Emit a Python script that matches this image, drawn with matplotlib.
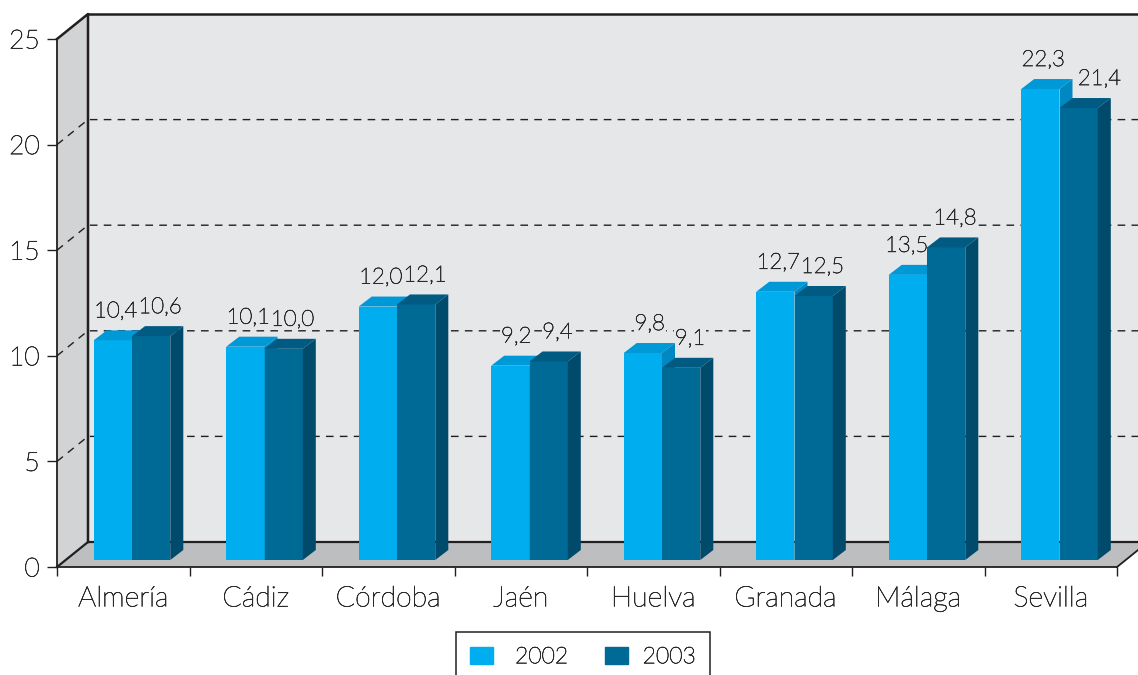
import matplotlib
matplotlib.use('Agg')
import matplotlib.pyplot as plt
import matplotlib.patheffects as pe
from matplotlib.patches import Polygon, Patch
import numpy as np

plt.rcParams['font.family'] = ['Lato', 'DejaVu Sans']
plt.rcParams['font.weight'] = 'light'

cities = ['Almería', 'Cádiz', 'Córdoba', 'Jaén', 'Huelva', 'Granada', 'Málaga', 'Sevilla']
values_2002 = [10.4, 10.1, 12.0, 9.2, 9.8, 12.7, 13.5, 22.3]
values_2003 = [10.6, 10.0, 12.1, 9.4, 9.1, 12.5, 14.8, 21.4]
years = ['2002', '2003']
y_ticks = [0, 5, 10, 15, 20, 25]

W, H = 1138, 675
ink = '#231f20'
text_col = '#2b292a'
wall_col = '#e6e7e9'
# lato light is too thin by itself, a small stroke brings it up to the reference
thicker = [pe.withStroke(linewidth=0.45, foreground=text_col)]

fig = plt.figure(figsize=(W / 100, H / 100), dpi=100)
# front plane of the fake 3d box, in pixels
ax = fig.add_axes([57 / W, 1 - 567 / H, 1060 / W, 528 / H])
ax.set_xlim(0, 8)
ax.set_ylim(0, 25)
ax.patch.set_visible(False)

px_x = 8 / 1060
px_y = 25 / 528


def face(pts, color, z, **kw):
    ax.add_patch(Polygon(pts, closed=True, facecolor=color, edgecolor=kw.pop('ec', 'none'),
                         clip_on=False, zorder=z, **kw))


#%% box walls
wall_dx, wall_dy = 31 * px_x, 25 * px_y
face([(wall_dx, wall_dy), (8 + wall_dx, wall_dy), (8 + wall_dx, 25 + wall_dy), (wall_dx, 25 + wall_dy)], wall_col, 1)
face([(0, 0), (wall_dx, wall_dy), (wall_dx, 25 + wall_dy), (0, 25)], '#d1d3d4', 1)
face([(0, 0), (8, 0), (8 + wall_dx, wall_dy), (wall_dx, wall_dy)], '#bcbec0', 1)

for v in y_ticks[1:-1]:
    ax.plot([0, wall_dx, 8 + wall_dx], [v, v + wall_dy, v + wall_dy], color=ink, lw=1.0,
            dashes=(5.5, 4.5), clip_on=False, zorder=2)

ax.plot([0, wall_dx, wall_dx], [25, 25 + wall_dy, wall_dy], color=ink, lw=1.8, clip_on=False, zorder=3)
ax.plot([wall_dx, 8 + wall_dx], [25 + wall_dy, 25 + wall_dy], color=ink, lw=1.8, clip_on=False, zorder=3)
ax.plot([0, wall_dx, 8 + wall_dx], [0, wall_dy, wall_dy], color=ink, lw=1.6, clip_on=False, zorder=3)
ax.plot([8, 8 + wall_dx], [0, wall_dy], color=ink, lw=1.3, clip_on=False, zorder=3)

#%% bars
x = np.arange(len(cities))
bar_w = 38.3 * px_x
bar_left = 36.7 * px_x
bar_dx, bar_dy = 13 * px_x, 10 * px_y
base = 7 * px_y

series = [
    (values_2002, bar_left, '#00aeef', '#0099d8', '#0088c2', 22, 4),
    (values_2003, bar_left + bar_w, '#006a96', '#005a82', '#004a6c', 28, 6),
]
# labels that sit off the usual spot, (series, city): pixels
nudge = {(0, 3): 3, (0, 4): 4, (0, 6): -4, (1, 7): 12}

for s, (vals, off, front, top, side, lab_x, z) in enumerate(series):
    left = x + off
    ax.bar(left, vals, width=bar_w, bottom=base, align='edge', color=front, clip_on=False, zorder=z)
    for i, (l, v) in enumerate(zip(left, vals)):
        t = base + v
        r = l + bar_w
        face([(l, t), (r, t), (r + bar_dx, t + bar_dy), (l + bar_dx, t + bar_dy)], top, z)
        face([(r, base), (r + bar_dx, base + bar_dy), (r + bar_dx, t + bar_dy), (r, t)], side, z)
        lab = '{:.1f}'.format(v).replace('.', ',')
        lab_pos = (l + (lab_x + nudge.get((s, i), 0)) * px_x, t + bar_dy + 19 * px_y)
        # the dashes stop around the labels, so a wall coloured copy sits under the bars
        ax.text(*lab_pos, lab, ha='center', va='center', fontsize=16, color=wall_col, zorder=2.5,
                bbox=dict(facecolor=wall_col, edgecolor='none', pad=0.5))
        ax.text(*lab_pos, lab, ha='center', va='center', fontsize=16, color=text_col, zorder=10,
                path_effects=thicker)

#%% axes
for name in ['top', 'right']:
    ax.spines[name].set_visible(False)
for name in ['left', 'bottom']:
    ax.spines[name].set_color(ink)
    ax.spines[name].set_linewidth(1.3)
    ax.spines[name].set_zorder(4)

ax.set_yticks(y_ticks)
ax.set_yticklabels([str(v) for v in y_ticks], fontsize=19, color=text_col, path_effects=thicker)
ax.tick_params(axis='y', length=7.5, width=1, color=ink, pad=5)
ax.set_xticks(np.arange(len(cities) + 1))
ax.set_xticklabels([])
ax.tick_params(axis='x', which='major', length=6.5, width=1, color=ink)
ax.set_xticks(x + 0.5, minor=True)
ax.set_xticklabels(cities, minor=True, fontsize=20.5, color=text_col, path_effects=thicker)
ax.tick_params(axis='x', which='minor', length=0, pad=14)

#%% legend
handles = [Patch(color=series[0][2]), Patch(color=series[1][2])]
leg = fig.legend(handles, years, ncol=2, loc='upper left', bbox_to_anchor=(456 / W, 1 - 632 / H),
                 fontsize=16.5, fancybox=False, framealpha=1, edgecolor=ink, labelcolor=text_col,
                 borderaxespad=0, borderpad=0.62, handlelength=1.0, handleheight=0.75,
                 handletextpad=0.65, columnspacing=1.9)
leg.get_frame().set_linewidth(1.1)
for t in leg.get_texts():
    t.set_path_effects(thicker)
leg.get_texts()[0].set_x(7)  # the first label stands further from its swatch

fig.savefig('out.png', dpi=100)
